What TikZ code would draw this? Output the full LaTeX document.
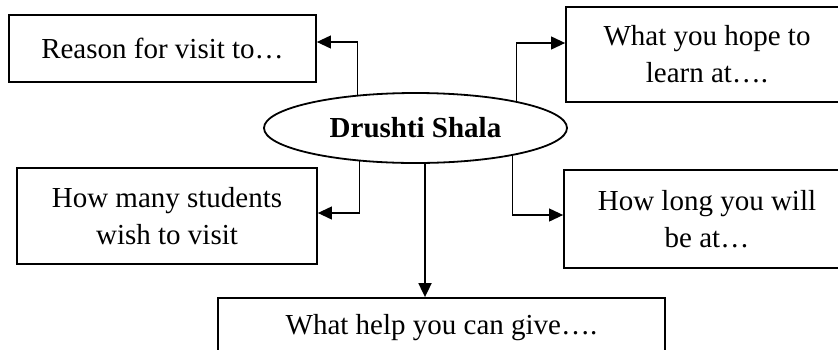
\documentclass[tikz,border=0pt]{standalone}
\usepackage{fontspec}
\setmainfont{Liberation Serif}
\usetikzlibrary{arrows.meta, shapes.geometric}

\begin{document}
\begin{tikzpicture}[x=1pt, y=-1pt,
		box/.style={draw, line width=1.8pt, align=center, inner sep=0pt, font=\fontsize{29}{37}\selectfont},
		hub/.style={draw, ellipse, line width=1.8pt, inner sep=0pt, minimum width=303pt, minimum height=70pt, font=\fontsize{29}{37}\selectfont\bfseries},
		link/.style={line width=1.1pt, -{Triangle[length=14pt, width=13pt]}}]
			\clip (0,0) rectangle (838,349);
			\node[hub] (shala) at (415.5,128) {Drushti Shala};
			\node[box, minimum width=307pt, minimum height=67pt] (reason) at (162.5,48.5) {Reason for visit to…};
			\node[box, minimum width=282pt, minimum height=95pt] (hope) at (707,54.5) {What you hope to\\learn at….};
			\node[box, minimum width=300pt, minimum height=96pt] (many) at (167,216) {How many students\\wish to visit};
			\node[box, minimum width=286pt, minimum height=98pt] (long) at (707,219) {How long you will\\be at…};
			\node[box, minimum width=447pt, minimum height=60pt] (help) at (441.5,328) {What help you can give….};
			\draw[link] (shala.150.6) |- ([yshift=6.5pt]reason.east);
			\draw[link] (shala.15.4) |- ([yshift=11.5pt]hope.west);
			\draw[link] (shala.211) |- ([yshift=3pt]many.east);
			\draw[link] (shala.344.6) |- ([yshift=4pt]long.west);
			\draw[link, line width=1.8pt] ([xshift=9.5pt]shala.south) -- ([xshift=9.5pt]shala.south |- help.north);
		\end{tikzpicture}
\end{document}
